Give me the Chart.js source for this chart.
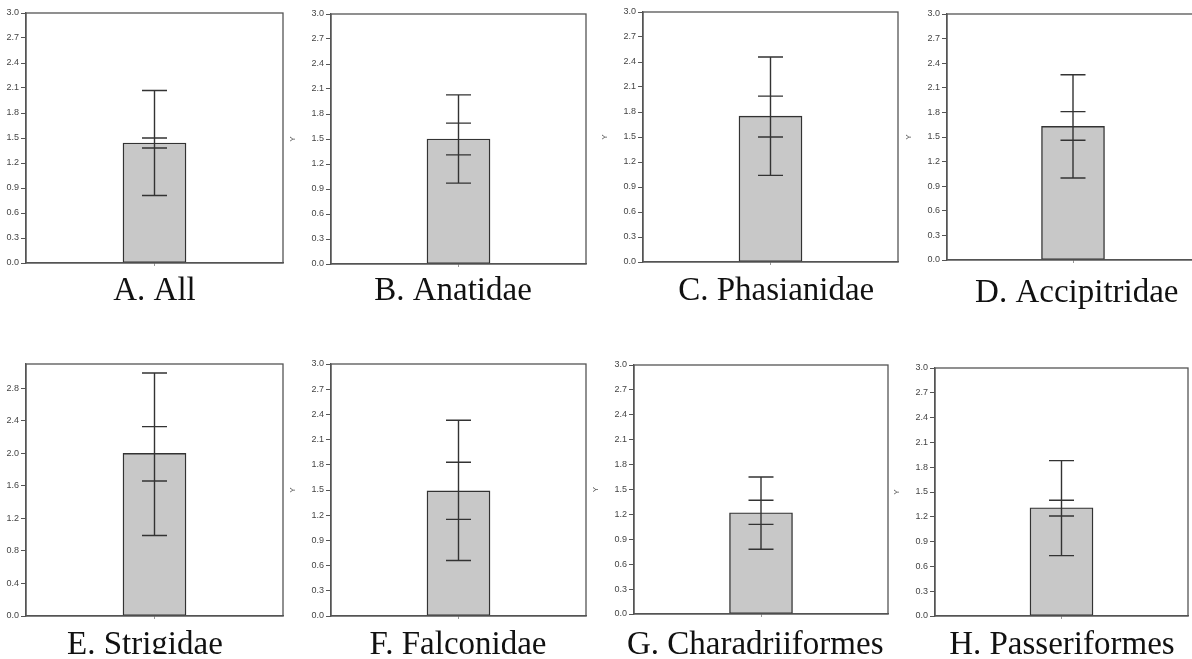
<!DOCTYPE html>
<html>
<head>
<meta charset="utf-8">
<script src="https://cdn.jsdelivr.net/npm/chart.js@4.4.1/dist/chart.umd.min.js"></script>
<style>
  html, body { margin: 0; padding: 0; background: #fff; }
  body { position: relative; width: 1192px; height: 659px; overflow: hidden; }
  canvas { position: absolute; }
</style>
</head>
<body>
<script>
// Group captions, one panel per group
const groups = ['A. All', 'B. Anatidae', 'C. Phasianidae', 'D. Accipitridae',
                'E. Strigidae', 'F. Falconidae', 'G. Charadriiformes', 'H. Passeriformes'];
// Bar heights (group means)
const means     = [1.44, 1.50, 1.75, 1.63, 2.00, 1.49, 1.22, 1.31];
// Short error bars (inner caps)
const innerLow  = [1.38, 1.31, 1.50, 1.46, 1.66, 1.15, 1.08, 1.21];
const innerHigh = [1.50, 1.69, 1.99, 1.81, 2.33, 1.83, 1.37, 1.40];
// Long error bars (outer caps)
const outerLow  = [0.81, 0.97, 1.04, 1.00, 0.99, 0.66, 0.78, 0.73];
const outerHigh = [2.07, 2.03, 2.46, 2.26, 2.99, 2.33, 1.65, 1.88];
// Y-axis tick labels and upper limits
const ticksStep03 = [0.0, 0.3, 0.6, 0.9, 1.2, 1.5, 1.8, 2.1, 2.4, 2.7, 3.0];
const ticksStep04 = [0.0, 0.4, 0.8, 1.2, 1.6, 2.0, 2.4, 2.8];
const axisTicks = [ticksStep03, ticksStep03, ticksStep03, ticksStep03,
                   ticksStep04, ticksStep03, ticksStep03, ticksStep03];
const axisMax = [3.0, 3.0, 3.0, 3.0, 3.1, 3.0, 3.0, 3.0];

// Page layout: plot box edges, caption baseline and horizontal nudge, canvas bottom
const layout = [
  { l: 26,  t: 13,  r: 283,  b: 263, base: 300,   dx: 0,    bottom: 322 },
  { l: 331, t: 14,  r: 586,  b: 264, base: 300,   dx: -5.5, bottom: 322 },
  { l: 643, t: 12,  r: 898,  b: 262, base: 300,   dx: 5.7,  bottom: 322 },
  { l: 947, t: 14,  r: 1199, b: 260, base: 302,   dx: 3.8,  bottom: 322 },
  { l: 26,  t: 364, r: 283,  b: 616, base: 653.5, dx: -9.6, bottom: 654 },
  { l: 331, t: 364, r: 586,  b: 616, base: 653.5, dx: -0.5, bottom: 654 },
  { l: 634, t: 365, r: 888,  b: 614, base: 653.5, dx: -5.8, bottom: 654 },
  { l: 935, t: 368, r: 1188, b: 616, base: 653.5, dx: 0.4,  bottom: 654 }
];

const AXIS_W = 45, PAD_TOP = 8, PAD_RIGHT = 2;
const frameColor = '#555';

// Full rectangle around the plotting area
const framePlugin = {
  id: 'frame',
  afterDraw(chart) {
    const { ctx, chartArea: a } = chart;
    ctx.save();
    ctx.strokeStyle = frameColor;
    ctx.lineWidth = 1.3;
    ctx.strokeRect(a.left, a.top, a.right - a.left, a.bottom - a.top);
    ctx.restore();
  }
};

// Two nested error bars per bar, positioned through the y scale
const errorBarPlugin = {
  id: 'errorBars',
  afterDatasetsDraw(chart, args, opts) {
    const y = chart.scales.y;
    const meta = chart.getDatasetMeta(0);
    const ctx = chart.ctx;
    ctx.save();
    ctx.strokeStyle = opts.color;
    ctx.lineWidth = opts.width;
    meta.data.forEach((bar, i) => {
      const e = opts.bars[i];
      const x = bar.x, hw = opts.capHalf;
      ctx.beginPath();
      ctx.moveTo(x, y.getPixelForValue(e.outerHigh));
      ctx.lineTo(x, y.getPixelForValue(e.outerLow));
      [e.outerHigh, e.outerLow, e.innerHigh, e.innerLow].forEach(v => {
        const py = y.getPixelForValue(v);
        ctx.moveTo(x - hw, py);
        ctx.lineTo(x + hw, py);
      });
      ctx.stroke();
    });
    ctx.restore();
  }
};

// Serif caption under each panel
const captionPlugin = {
  id: 'caption',
  afterDraw(chart, args, opts) {
    const { ctx, chartArea: a } = chart;
    ctx.save();
    ctx.font = '33px "Liberation Serif", "Times New Roman", serif';
    ctx.fillStyle = '#111';
    ctx.textAlign = 'center';
    ctx.textBaseline = 'alphabetic';
    ctx.fillText(chart.data.labels[0], (a.left + a.right) / 2 + opts.dx, a.bottom + opts.offset);
    ctx.restore();
  }
};

groups.forEach((name, i) => {
  const g = layout[i];
  const left = g.l - AXIS_W;
  const top = g.t - PAD_TOP;
  const width = (g.r - g.l) + AXIS_W + PAD_RIGHT;
  const height = g.bottom - top;
  const xAxisH = g.bottom - g.b;

  const canvas = document.createElement('canvas');
  canvas.width = width;
  canvas.height = height;
  canvas.style.left = left + 'px';
  canvas.style.top = top + 'px';
  canvas.style.width = width + 'px';
  canvas.style.height = height + 'px';
  document.body.appendChild(canvas);

  new Chart(canvas, {
    type: 'bar',
    data: {
      labels: [name],
      datasets: [{
        data: [means[i]],
        backgroundColor: '#c8c8c8',
        borderColor: '#333',
        borderWidth: 1.4,
        borderSkipped: false,
        barThickness: 63
      }]
    },
    options: {
      responsive: false,
      animation: false,
      devicePixelRatio: 1,
      layout: { padding: { top: PAD_TOP, right: PAD_RIGHT, left: 0, bottom: 0 } },
      plugins: {
        legend: { display: false },
        tooltip: { enabled: false },
        errorBars: {
          color: '#333', width: 1.4, capHalf: 12.5,
          bars: [{ outerHigh: outerHigh[i], outerLow: outerLow[i],
                   innerHigh: innerHigh[i], innerLow: innerLow[i] }]
        },
        caption: { dx: g.dx, offset: g.base - g.b }
      },
      scales: {
        x: {
          afterFit(s) { s.height = xAxisH; },
          ticks: { display: false },
          grid: { drawOnChartArea: false, offset: false, tickLength: 3, color: '#999' },
          border: { color: frameColor, width: 1.3 }
        },
        y: {
          min: 0,
          max: axisMax[i],
          afterFit(s) { s.width = AXIS_W; },
          afterBuildTicks(s) { s.ticks = axisTicks[i].map(v => ({ value: v })); },
          ticks: {
            font: { family: '"Liberation Sans", Arial, sans-serif', size: 9 },
            color: '#444',
            padding: 2,
            callback: v => Number(v).toFixed(1)
          },
          grid: { drawOnChartArea: false, tickLength: 5, color: frameColor, lineWidth: 1 },
          border: { color: frameColor, width: 1.3 },
          title: {
            display: true, text: 'Y', color: '#555',
            font: { family: '"Liberation Sans", Arial, sans-serif', size: 8 },
            padding: { top: 2.2, bottom: 0 }
          }
        }
      }
    },
    plugins: [framePlugin, errorBarPlugin, captionPlugin]
  });
});
</script>
</body>
</html>
